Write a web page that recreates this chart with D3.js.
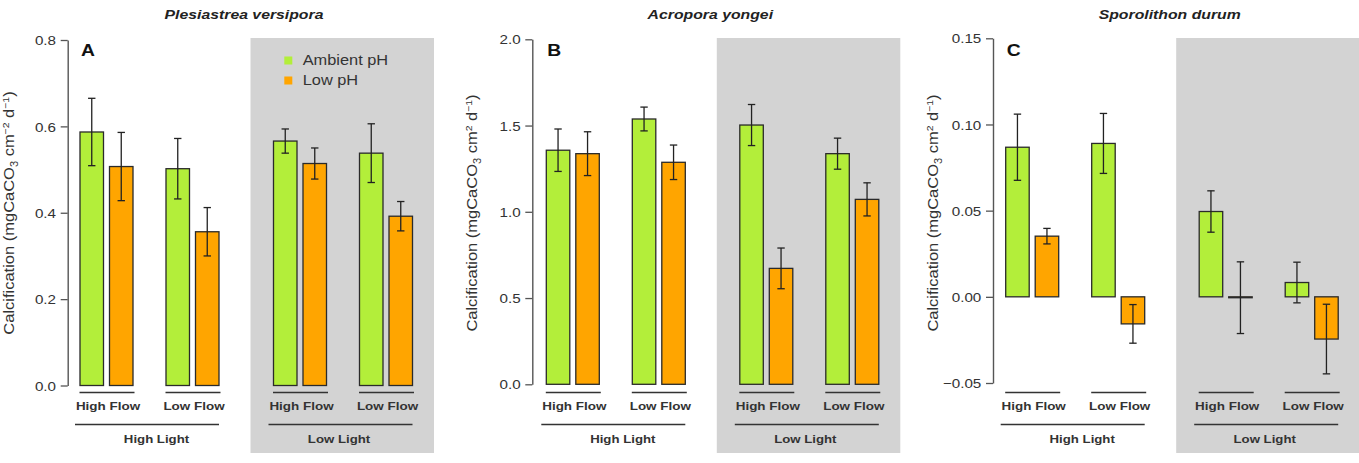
<!DOCTYPE html>
<html>
<head>
<meta charset="utf-8">
<script src="https://cdn.jsdelivr.net/npm/d3@7"></script>
<style>
  html, body { margin: 0; padding: 0; background: #fff; }
  svg { display: block; font-family: "Liberation Sans", Arial, Helvetica, sans-serif; }
</style>
</head>
<body>
<svg id="chart" width="1359" height="463"></svg>
<script>
// ---------------- data ----------------
const species = ["Plesiastrea versipora", "Acropora yongei", "Sporolithon durum"];
const panelLetters = ["A", "B", "C"];
const lightLevels = ["High Light", "Low Light"];
const flowLevels = ["High Flow", "Low Flow"];
const treatments = ["Ambient pH", "Low pH"];

// order: HighLight-HighFlow, HighLight-LowFlow, LowLight-HighFlow, LowLight-LowFlow
const ambientA = [0.587, 0.502, 0.566, 0.538];
const ambientSeA = [0.078, 0.070, 0.028, 0.068];
const lowA = [0.507, 0.356, 0.514, 0.392];
const lowSeA = [0.079, 0.056, 0.036, 0.034];

const ambientB = [1.357, 1.538, 1.503, 1.337];
const ambientSeB = [0.123, 0.069, 0.119, 0.090];
const lowB = [1.337, 1.287, 0.672, 1.072];
const lowSeB = [0.127, 0.100, 0.118, 0.096];

const ambientC = [0.0868, 0.0890, 0.0495, 0.0083];
const ambientSeC = [0.0192, 0.0174, 0.0120, 0.0118];
const lowC = [0.0352, -0.0157, -0.0005, -0.0245];
const lowSeC = [0.0045, 0.0112, 0.0208, 0.0202];

const ticksA = [0, 0.2, 0.4, 0.6, 0.8];
const ticksB = [0, 0.5, 1.0, 1.5, 2.0];
const ticksC = [-0.05, 0, 0.05, 0.10, 0.15];
const tickFmtA = d3.format(".1f");
const tickFmtB = d3.format(".1f");
const tickFmtC = d => d3.format(".2f")(d).replace("-", "\u2212");

// ---------------- layout ----------------
const colors = { "Ambient pH": "#B3EE3A", "Low pH": "#FFA500" };
const SX = 1.17; // horizontal text stretch of original rendering

const panels = [
  { ambient: ambientA, ambientSe: ambientSeA, low: lowA, lowSe: lowSeA, ticks: ticksA, fmt: tickFmtA,
    domain: [0, 0.8], axisX: 67.7, yRange: [385.5, 40], x0: 80, unit: "minus", legend: true, ylShift: 1.6 },
  { ambient: ambientB, ambientSe: ambientSeB, low: lowB, lowSe: lowSeB, ticks: ticksB, fmt: tickFmtB,
    domain: [0, 2.0], axisX: 532.3, yRange: [384.3, 39.3], x0: 546.3, unit: "plain", legend: false, ylShift: 0 },
  { ambient: ambientC, ambientSe: ambientSeC, low: lowC, lowSe: lowSeC, ticks: ticksC, fmt: tickFmtC,
    domain: [-0.05, 0.15], axisX: 993, yRange: [383, 38.3], x0: 1005.7, unit: "plain", legend: false, ylShift: 0 }
];

const svg = d3.select("#chart");
const barW = 23.5, pairOff = 29.5;
const groupPos = [0, 1, 2.25, 3.25];

panels.forEach((p, pi) => {
  const g = svg.append("g");
  const y = d3.scaleLinear().domain(p.domain).range(p.yRange);
  const x = d3.scaleLinear().domain([0, 1]).range([p.x0, p.x0 + 86]);
  const gx = i => x(groupPos[i]);

  // gray low-light background
  const bgL = gx(2) - 23, bgR = Math.min(1359, gx(3) + pairOff + barW + 21.5);
  g.append("rect").attr("x", bgL).attr("y", 38).attr("width", bgR - bgL).attr("height", 415)
    .attr("fill", "#D3D3D3");

  // title
  g.append("text")
    .attr("transform", `translate(${p.x0 + 164},19) scale(${SX},1)`)
    .attr("text-anchor", "middle").attr("font-size", 13.5)
    .attr("font-weight", "bold").attr("font-style", "italic").attr("fill", "#222")
    .text(species[pi]);

  // y axis
  const axis = d3.axisLeft(y).tickValues(p.ticks).tickFormat(p.fmt).tickSize(7).tickSizeOuter(0).tickPadding(4.7);
  const ag = g.append("g").attr("transform", `translate(${p.axisX},0)`).call(axis);
  ag.select(".domain").attr("stroke", "#555").attr("stroke-width", 1.4);
  ag.selectAll(".tick line").attr("stroke", "#555").attr("stroke-width", 1.3);
  ag.selectAll(".tick text")
    .attr("x", -11.7 / SX).attr("dy", "0.36em")
    .attr("transform", `scale(${SX},1)`)
    .attr("font-size", 13).attr("fill", "#333")
    .attr("font-family", "Liberation Sans, Arial, sans-serif");

  // y label
  const yl = g.append("text")
    .attr("transform", `translate(${p.axisX - 55.4 + p.ylShift},213) rotate(-90) scale(1.1,1)`)
    .attr("text-anchor", "middle").attr("font-size", 15).attr("fill", "#333");
  yl.append("tspan").text("Calcification (mgCaCO");
  yl.append("tspan").attr("dy", 4).attr("font-size", 10).text("3");
  yl.append("tspan").attr("dy", -4).text(" cm");
  yl.append("tspan").attr("dy", -4.5).attr("font-size", 9.5).text(p.unit === "minus" ? "\u22122" : "2");
  yl.append("tspan").attr("dy", 4.5).text(" d");
  yl.append("tspan").attr("dy", -4.5).attr("font-size", 9.5).text("\u22121");
  yl.append("tspan").attr("dy", 4.5).text(")");

  // panel letter
  g.append("text")
    .attr("transform", `translate(${p.x0 + 1},55.5) scale(${SX},1)`)
    .attr("font-size", 16.5).attr("font-weight", "bold").attr("fill", "#111")
    .text(panelLetters[pi]);

  // bars
  const rows = [];
  for (let i = 0; i < 4; i++) {
    rows.push({ i, t: treatments[0], v: p.ambient[i], se: p.ambientSe[i], off: 0 });
    rows.push({ i, t: treatments[1], v: p.low[i], se: p.lowSe[i], off: pairOff });
  }
  g.selectAll("rect.bar").data(rows).join("rect").attr("class", "bar")
    .attr("x", d => gx(d.i) + d.off)
    .attr("width", barW)
    .attr("y", d => Math.min(y(d.v), y(0)))
    .attr("height", d => Math.max(0.9, Math.abs(y(d.v) - y(0))))
    .attr("fill", d => colors[d.t])
    .attr("stroke", "#2a2a2a").attr("stroke-width", 1.3);

  // error bars
  const eb = g.selectAll("g.eb").data(rows).join("g").attr("class", "eb")
    .attr("stroke", "#222").attr("stroke-width", 1.3);
  eb.append("line")
    .attr("x1", d => gx(d.i) + d.off + barW / 2).attr("x2", d => gx(d.i) + d.off + barW / 2)
    .attr("y1", d => y(d.v - d.se)).attr("y2", d => y(d.v + d.se));
  [-1, 1].forEach(s => {
    eb.append("line")
      .attr("x1", d => gx(d.i) + d.off + barW / 2 - 3.7).attr("x2", d => gx(d.i) + d.off + barW / 2 + 3.7)
      .attr("y1", d => y(d.v + s * d.se)).attr("y2", d => y(d.v + s * d.se));
  });

  // flow category lines and labels
  for (let i = 0; i < 4; i++) {
    g.append("line").attr("x1", gx(i) - 0.5).attr("x2", gx(i) + 54.5)
      .attr("y1", 392.5).attr("y2", 392.5).attr("stroke", "#333").attr("stroke-width", 1.6);
    g.append("text")
      .attr("transform", `translate(${gx(i) + 28},410) scale(${SX},1)`)
      .attr("text-anchor", "middle").attr("font-size", 11.5).attr("font-weight", "bold").attr("fill", "#333")
      .text(flowLevels[i % 2]);
  }
  // light category lines and labels
  for (let l = 0; l < 2; l++) {
    const a = gx(2 * l) - 5, b = gx(2 * l + 1) + 53;
    g.append("line").attr("x1", a).attr("x2", b)
      .attr("y1", 424.5).attr("y2", 424.5).attr("stroke", "#333").attr("stroke-width", 1.6);
    g.append("text")
      .attr("transform", `translate(${(a + b) / 2 + (l === 0 ? 9.5 : -1.5)},443) scale(${SX},1)`)
      .attr("text-anchor", "middle").attr("font-size", 11.3).attr("font-weight", "bold").attr("fill", "#333")
      .text(lightLevels[l]);
  }

  // legend
  if (p.legend) {
    treatments.forEach((t, k) => {
      g.append("rect").attr("x", 284.3).attr("y", 56.5 + k * 20).attr("width", 8).attr("height", 8)
        .attr("fill", colors[t]);
      g.append("text")
        .attr("transform", `translate(302.7,${65.2 + k * 20}) scale(${SX},1)`)
        .attr("font-size", 14).attr("fill", "#333").text(t);
    });
  }
});
</script>
</body>
</html>
